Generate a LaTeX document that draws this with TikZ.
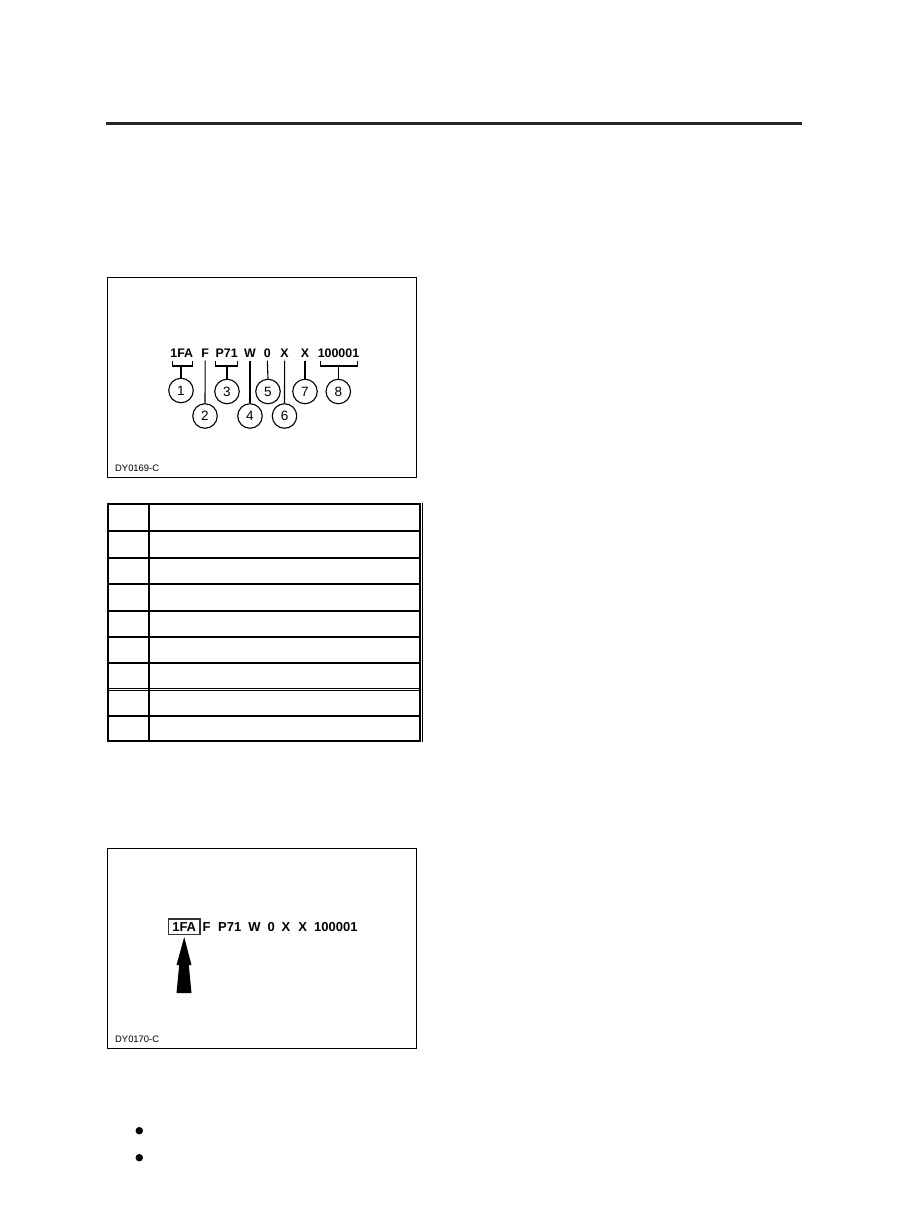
\documentclass[tikz,border=0pt]{standalone}
\usepackage{fontspec}
\newfontfamily\arial{Liberation Sans}
\begin{document}
\begin{tikzpicture}[x=1pt,y=-1pt,
  vin/.style={font=\arial\bfseries\fontsize{12.4}{12.4}\selectfont,inner sep=0pt,anchor=base},
  vinb/.style={font=\arial\bfseries\fontsize{13}{13}\selectfont,inner sep=0pt,anchor=base},
  numc/.style={circle,draw,line width=1.1pt,minimum size=24.5pt,inner sep=0pt,font=\arial\fontsize{13.5}{13.5}\selectfont},
  code/.style={font=\arial\fontsize{9.4}{9.4}\selectfont,inner sep=0pt,anchor=base west},
  frame/.style={draw,line width=1.1pt},
  lead/.style={line width=1.1pt},
  tab/.style={line width=2pt},
  dot/.style={circle,fill,inner sep=0pt,minimum size=7.5pt}]
\useasboundingbox (0,0) rectangle (909,1231);
\fill[white] (0,0) rectangle (909,1231);
% top rule
\coordinate (ruleL) at (106,123.5);
\coordinate (ruleR) at (802,123.5);
\draw[line width=2.2pt,black!85] (ruleL) -- (ruleR);
% ---------- figure 1 ----------
\node[frame,minimum width=309pt,minimum height=200pt,anchor=north west,inner sep=0pt] (fig1) at (107,277) {};
\node[vin] (t1) at (181.8,357.9) {1FA};
\node[vin] (t2) at (205.2,357.9) {F};
\node[vin] (t3) at (226.7,357.9) {P71};
\node[vin] (t4) at (250,357.9) {W};
\node[vin] (t5) at (267.3,357.9) {0};
\node[vin] (t6) at (284.6,357.9) {X};
\node[vin] (t7) at (305,357.9) {X};
\node[vin] (t8) at (338.5,357.9) {100001};
\node[numc] (c1) at (181,390.5) {1};
\node[numc] (c2) at (205,416) {2};
\node[numc] (c3) at (227,391.5) {3};
\node[numc] (c4) at (250,416) {4};
\node[numc] (c5) at (268,391.5) {5};
\node[numc] (c6) at (284.5,416) {6};
\node[numc] (c7) at (305,391.5) {7};
\node[numc] (c8) at (338.3,391.5) {8};
% brackets
\coordinate (b1) at (181,366);
\coordinate (b3) at (227,366);
\coordinate (b8) at (338.3,366);
\draw[lead] (172.2,360.5) -- (172.2,366) -- (192.8,366) -- (192.8,360.5);
\draw[lead] (215.7,360.5) -- (215.7,366) -- (237.9,366) -- (237.9,360.5);
\draw[lead] (320.6,360.5) -- (320.6,366) -- (357.2,366) -- (357.2,360.5);
\draw[lead] (b1) -- (c1.north);
\draw[lead] (b3) -- (c3.north);
\draw[lead] (b8) -- (c8.north);
% single leaders
\draw[lead] ([yshift=-2.5pt]t2.south) -- (c2.north);
\draw[lead] ([yshift=-2.5pt]t4.south) -- (c4.north);
\draw[lead] ([yshift=-2.5pt]t5.south) -- (c5.north);
\draw[lead] ([yshift=-2.5pt]t6.south) -- (c6.north);
\draw[lead] ([yshift=-2.5pt]t7.south) -- (c7.north);
\node[code] (dy1) at (115,471.8) {DY0169-C};
% ---------- table ----------
\foreach \y in {504.3,531,557.7,584,610.7,636.7,662.7,716,740.7}
  \draw[tab] (107.3,\y) -- (420.5,\y);
\draw[line width=0.9pt] (107.3,688) -- (420.5,688);
\draw[line width=0.9pt] (107.3,690.2) -- (420.5,690.2);
\draw[tab] (107.5,503.3) -- (107.5,741.7);
\draw[tab] (149,503.3) -- (149,741.7);
\draw[tab] (420.3,503.3) -- (420.3,741.7);
\draw[line width=0.8pt] (422.6,503.3) -- (422.6,741.7);
% ---------- figure 2 ----------
\node[frame,minimum width=309pt,minimum height=200pt,anchor=north west,inner sep=0pt] (fig2) at (107,848) {};
\node[vinb,anchor=center,draw,line width=1.2pt,black!80,text=black,minimum width=31.5pt,minimum height=15.5pt] (v1) at (184.2,926.7) {1FA};
\node[vinb] (v2) at (206.7,931.5) {F};
\node[vinb] (v3) at (229.7,931.5) {P71};
\node[vinb] (v4) at (254.6,931.5) {W};
\node[vinb] (v5) at (271.3,931.5) {0};
\node[vinb] (v6) at (286,931.5) {X};
\node[vinb] (v7) at (302.7,931.5) {X};
\node[vinb] (v8) at (335.8,931.5) {100001};
% arrow
\fill ([yshift=-2pt]v1.south) -- (191.5,965) -- (188.8,965) -- (191.5,993) -- (176.5,993) -- (179.2,965) -- (176.5,965) -- cycle;
\node[code] (dy2) at (115,1042) {DY0170-C};
% bullets
\node[dot] (d1) at (139.3,1130.7) {};
\node[dot] (d2) at (139.3,1157.7) {};
\end{tikzpicture}
\end{document}
